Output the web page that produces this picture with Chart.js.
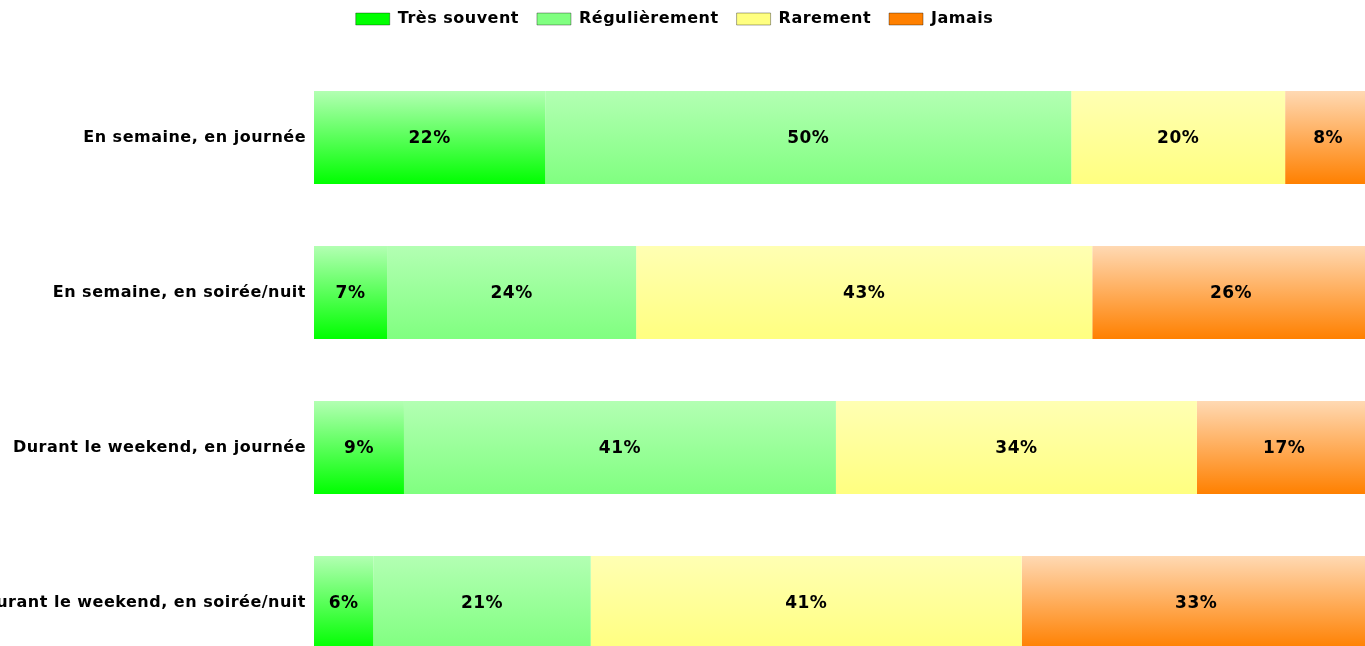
<!DOCTYPE html>
<html>
<head>
<meta charset="utf-8">
<title>Fréquence</title>
<script src="https://cdn.jsdelivr.net/npm/chart.js@4.4.0/dist/chart.umd.min.js"></script>
<style>
  html, body { margin: 0; padding: 0; background: #fff; overflow: hidden; }
  #wrap { position: relative; width: 1365px; height: 680px; }
</style>
</head>
<body>
<div id="wrap"><canvas id="myChart"></canvas></div>
<script>
/* Data section */
var categories = ["En semaine, en journée", "En semaine, en soirée/nuit", "Durant le weekend, en journée", "Durant le weekend, en soirée/nuit"];
var seriesNames = ["Très souvent", "Régulièrement", "Rarement", "Jamais"];
var tresSouvent = [22.0, 6.95, 8.56, 5.64];
var regulierement = [50.05, 23.7, 41.1, 20.69];
var rarement = [20.35, 43.4, 34.35, 41.01];
var jamais = [8.2, 26.4, 16.6, 33.2];

/* Style section */
var baseColors = ['#00ff00', '#80ff80', '#ffff80', '#ff8000'];
var topColors = ['#b3ffb3', '#b3ffb3', '#ffffb3', '#ffd9b3'];
var font = '"DejaVu Sans", Verdana, sans-serif';

// vertical gradient per bar, light on top
function barGradient(top, bottom) {
    return function (context) {
        var chart = context.chart;
        var y = chart.scales.y;
        if (context.type !== 'data' || !y || !chart.chartArea) return bottom;
        var half = (y.bottom - y.top) / categories.length * 0.6 / 2;
        var cy = y.getPixelForValue(context.dataIndex);
        var g = chart.ctx.createLinearGradient(0, cy - half, 0, cy + half);
        g.addColorStop(0, top);
        g.addColorStop(1, bottom);
        return g;
    };
}

// percent text in the middle of each segment
var pctLabels = {
    id: 'pctLabels',
    afterDatasetsDraw: function (chart) {
        var ctx = chart.ctx;
        ctx.save();
        ctx.font = 'bold 17px ' + font;
        ctx.fillStyle = '#000';
        ctx.textAlign = 'center';
        ctx.textBaseline = 'middle';
        chart.data.datasets.forEach(function (ds, i) {
            chart.getDatasetMeta(i).data.forEach(function (bar, j) {
                var x = (bar.x + bar.base) / 2;
                ctx.fillText(Math.round(ds.data[j]) + '%', x, bar.y + 1);
            });
        });
        ctx.restore();
    }
};

// extra room between legend and bars, legend nudged a bit left
var legendGap = {
    id: 'legendGap',
    beforeInit: function (chart) {
        var fit = chart.legend.fit;
        chart.legend.fit = function () {
            fit.call(this);
            this.height += 23;
        };
    },
    afterLayout: function (chart) {
        chart.legend.left -= 8;
        chart.legend.right -= 8;
    }
};

// Verdana-like wider text
var spacing = {
    id: 'spacing',
    beforeUpdate: function (chart) { chart.ctx.letterSpacing = '0.5px'; },
    beforeDraw: function (chart) { chart.ctx.letterSpacing = '0.5px'; }
};

var series = [tresSouvent, regulierement, rarement, jamais];

var ctx = document.getElementById('myChart').getContext('2d');
var myChart = new Chart(ctx, {
    type: 'bar',
    data: {
        labels: categories,
        datasets: series.map(function (values, i) {
            return {
                label: seriesNames[i],
                data: values,
                backgroundColor: barGradient(topColors[i], baseColors[i]),
                borderWidth: 0,
                categoryPercentage: 1,
                barPercentage: 0.6
            };
        })
    },
    options: {
        indexAxis: 'y',
        responsive: true,
        maintainAspectRatio: false,
        animation: false,
        devicePixelRatio: 1,
        layout: { padding: { top: -7, left: 0, right: 0, bottom: 0 } },
        scales: {
            x: { stacked: true, min: 0, max: 100, display: false },
            y: {
                stacked: true,
                grid: { display: false, drawTicks: false },
                border: { display: false },
                ticks: {
                    padding: 8,
                    color: '#000',
                    font: { family: font, size: 16, weight: 'bold' }
                },
                afterFit: function (scale) {
                    scale.width = 314;
                    scale.paddingTop = 0;
                    scale.paddingBottom = 0;
                }
            }
        },
        plugins: {
            tooltip: { enabled: false },
            legend: {
                position: 'top',
                labels: {
                    boxWidth: 34,
                    boxHeight: 12,
                    padding: 18,
                    color: '#000',
                    font: { family: font, size: 16, weight: 'bold' },
                    generateLabels: function (chart) {
                        return chart.data.datasets.map(function (ds, i) {
                            return {
                                text: ds.label,
                                fillStyle: baseColors[i],
                                strokeStyle: 'rgba(0,0,0,0.35)',
                                lineWidth: 1,
                                fontColor: '#000',
                                datasetIndex: i
                            };
                        });
                    }
                }
            }
        }
    },
    plugins: [pctLabels, legendGap, spacing]
});
</script>
</body>
</html>
